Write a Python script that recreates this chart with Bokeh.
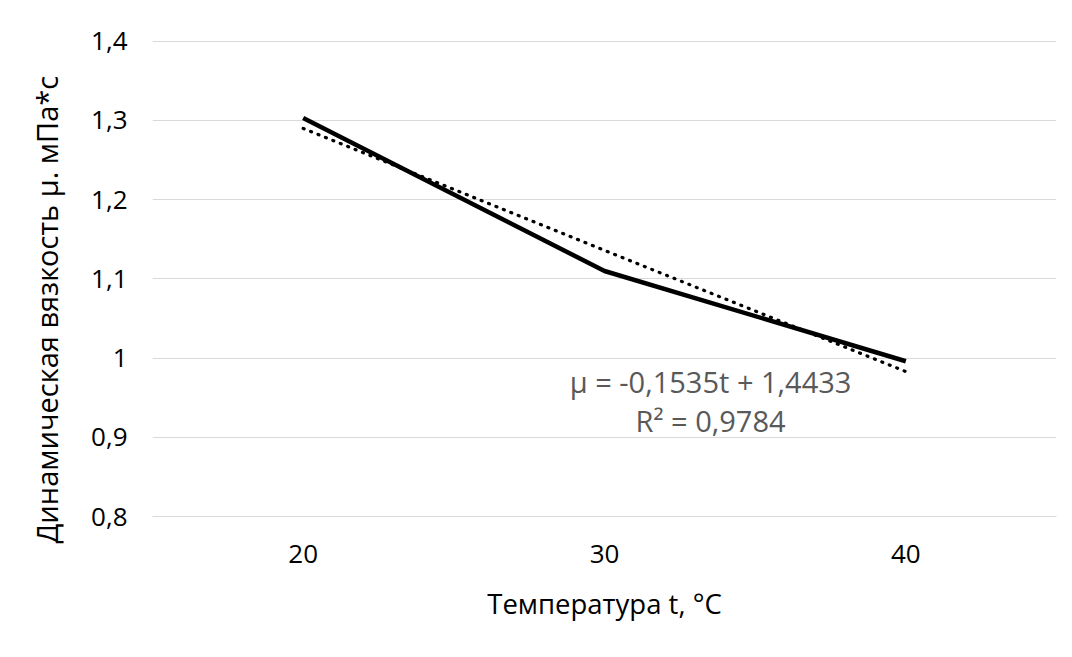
from bokeh.plotting import figure
from bokeh.models import FactorRange, Range1d, FixedTicker, CustomJSTickFormatter, Label, Title
from bokeh.embed import file_html
from bokeh.resources import INLINE

# ---- data ----
temperatures = ["20", "30", "40"]
viscosity = [1.303, 1.110, 0.996]
trend_values = [1.290, 1.136, 0.983]
y_ticks = [0.8, 0.9, 1.0, 1.1, 1.2, 1.3, 1.4]
x_title = "Температура t, °C"
y_title = "Динамическая вязкость μ. мПа*с"
eq_line1 = "μ = -0,1535t + 1,4433"
eq_line2 = "R² = 0,9784"

FONT = "Open Sans"

p = figure(
    width=1072, height=657,
    x_range=FactorRange(factors=temperatures, range_padding=0),
    y_range=Range1d(0.8, 1.401),
    output_backend="svg", toolbar_location=None,
    min_border_left=152, min_border_right=16, min_border_top=40, min_border_bottom=141,
)
p.outline_line_color = None
p.background_fill_color = "white"
p.border_fill_color = "white"

# grid
p.xgrid.grid_line_color = None
p.ygrid.grid_line_color = "#d9d9d9"
p.ygrid.grid_line_width = 1.2
p.yaxis.ticker = FixedTicker(ticks=y_ticks)

p.yaxis.formatter = CustomJSTickFormatter(code="""
var s = (Math.round(tick*10)/10).toString();
return s.replace('.', ',');
""")

for ax in (p.xaxis[0], p.yaxis[0]):
    ax.major_tick_line_color = None
    ax.minor_tick_line_color = None
    ax.major_label_text_font = FONT
    ax.major_label_text_font_size = "26px"
    ax.major_label_text_color = "#000000"
    ax.axis_label_text_font = FONT
    ax.axis_label_text_font_style = "normal"
    ax.axis_label_text_color = "#000000"

p.xaxis.axis_label_text_font_size = "27.5px"
p.yaxis.axis_line_color = None
p.xaxis.axis_line_color = "#d9d9d9"
p.xaxis.axis_line_width = 1.2
p.xaxis.axis_label = x_title
p.xaxis.major_label_standoff = 22
p.xaxis.axis_label_standoff = 19
p.yaxis.major_label_standoff = 19

# y-axis title as a side title, starting a little below the plot bottom
p.add_layout(Title(text=y_title, align="left", offset=-27, standoff=45,
                   text_font=FONT, text_font_size="29px",
                   text_font_style="normal", text_color="#000000"), "left")

# trend line (dotted)
p.line(temperatures, trend_values, line_color="black", line_width=3.2,
       line_dash="1 7", line_cap="round")
# data line
p.line(temperatures, viscosity, line_color="black", line_width=4.5)

p.add_layout(Label(x=1.852, y=0.9707, text=eq_line1, text_align="center",
                   text_baseline="middle", text_font=FONT,
                   text_font_size="29px", text_color="#595959"))
p.add_layout(Label(x=1.852, y=0.9214, text=eq_line2, text_align="center",
                   text_baseline="middle", text_font=FONT,
                   text_font_size="29px", text_color="#595959"))

open("out.html", "w").write(file_html(p, INLINE))
